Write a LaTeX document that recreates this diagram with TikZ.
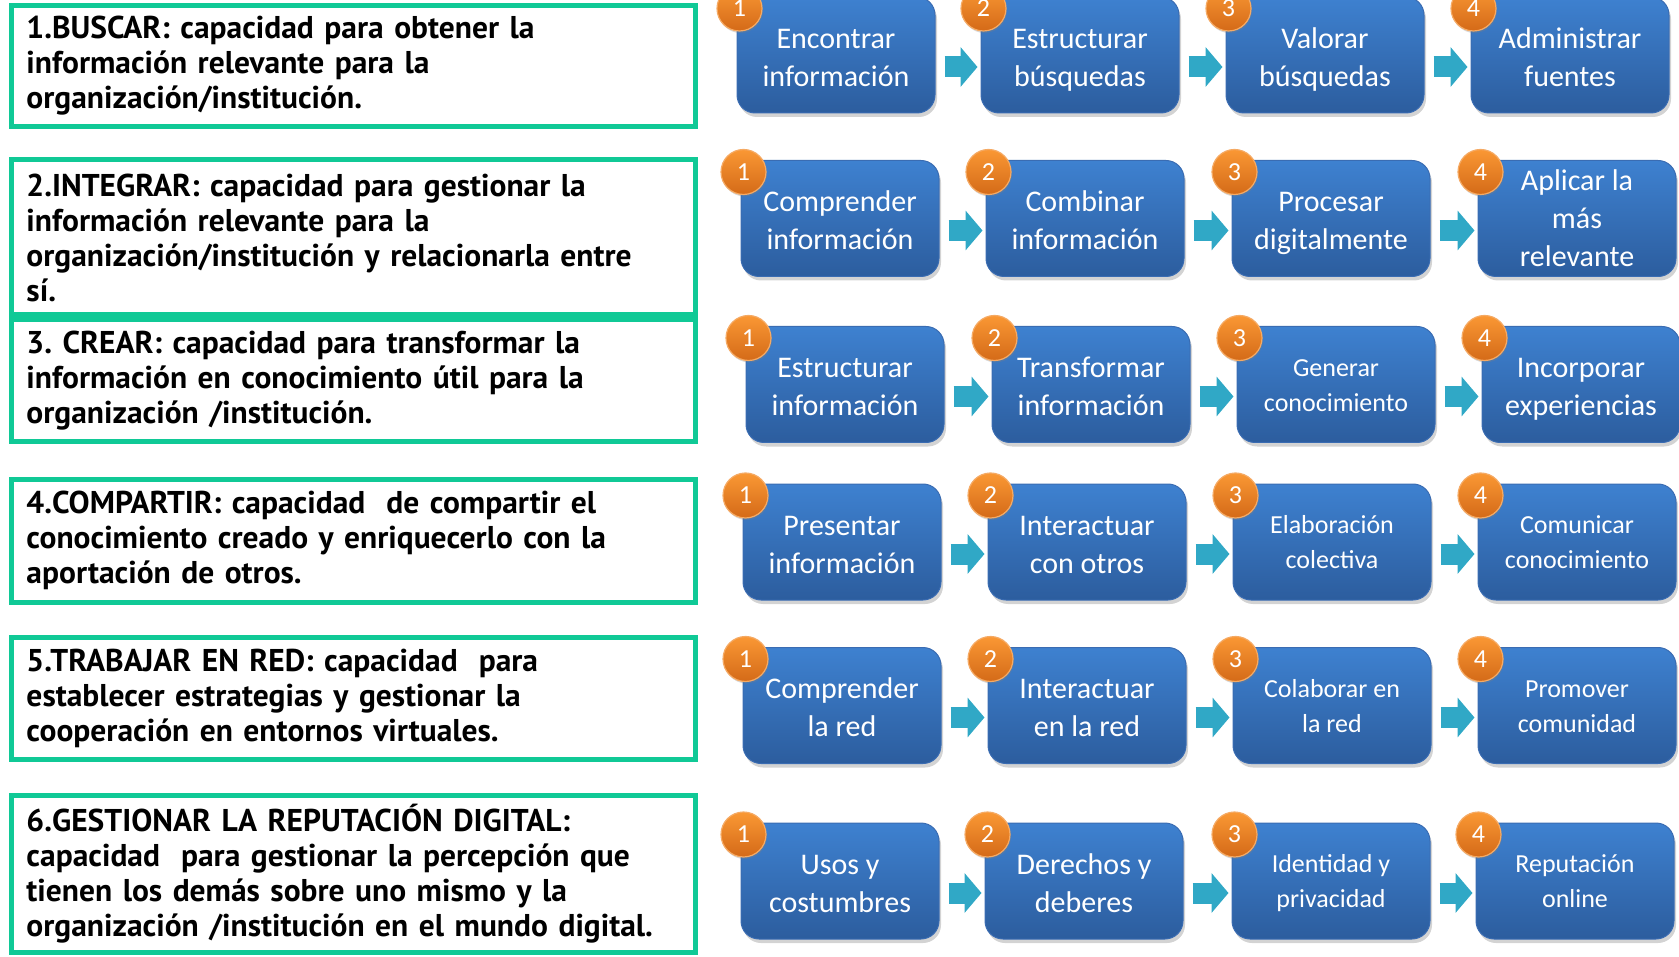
\documentclass[tikz,border=0pt]{standalone}
\usepackage{fontspec}
\setmainfont{Carlito}
\newfontfamily\deffont{PT Sans}
\usepackage{xcolor}
\usepackage{tikz}
\usetikzlibrary{arrows.meta, shadows}

\definecolor{defgreen}{RGB}{16,201,150}
\definecolor{boxtop}{RGB}{62,129,208}
\definecolor{boxbot}{RGB}{44,93,158}
\definecolor{boxline}{RGB}{58,108,178}
\definecolor{numtop}{RGB}{250,152,52}
\definecolor{numbot}{RGB}{212,106,24}
\definecolor{numline}{RGB}{245,170,100}
\definecolor{flowcol}{RGB}{48,168,198}

\begin{document}
\frenchspacing
\begin{tikzpicture}[x=1pt, y=-1pt,
				defbox/.style={draw=defgreen, line width=5pt, minimum height=#1,
					text width=654pt, inner xsep=15pt, align=left,
					font=\deffont\bfseries\fontsize{31.5}{35}\selectfont},
				skill/.style={rectangle, rounded corners=18pt, minimum width=198pt,
					minimum height=116pt, top color=boxtop, bottom color=boxbot,
					draw=boxline, line width=1pt, text=white, align=center,
					font=\fontsize{30}{38}\selectfont,
					execute at begin node={\rule{0pt}{2.45em}}, execute at end node=\strut,
					drop shadow={shadow xshift=2pt, shadow yshift=-4pt, opacity=0.35}},
				small/.style={font=\fontsize{26}{35}\selectfont},
				numbadge/.style={circle, minimum size=45pt, inner sep=0pt,
					top color=numtop, bottom color=numbot, draw=numline, line width=1.2pt,
					text=white, font=\fontsize{26}{26}\selectfont,
					drop shadow={shadow xshift=1pt, shadow yshift=-2pt, opacity=0.3}},
				flow/.style={draw=flowcol, line width=21pt,
					-{Triangle[width=39pt, length=17pt]},
					shorten <=9pt, shorten >=3pt}]
				\useasboundingbox (0,0) rectangle (1679,957);

				\node at (353.5,66) (d1) [defbox=121.5] {1.BUSCAR: capacidad para obtener la\\información relevante para la\\organización/institución.};
				\node at (353.5,237.5) (d2) [defbox=155] {2.INTEGRAR: capacidad para gestionar la\\información relevante para la\\organización/institución y relacionarla entre\\sí.};
				\node at (353.5,380.75) (d3) [defbox=121.5] {3. CREAR: capacidad para transformar la\\información en conocimiento útil para la\\organización /institución.};
				\node at (353.5,540.5) (d4) [defbox=123] {4.COMPARTIR: capacidad\ \ de compartir el\\conocimiento creado y enriquecerlo con la\\aportación de otros.};
				\node at (353.5,698.5) (d5) [defbox=122] {5.TRABAJAR EN RED: capacidad\ \ para\\establecer estrategias y gestionar la\\cooperación en entornos virtuales.};
				\node at (353.5,874) (d6) [defbox=157.5] {6.GESTIONAR LA REPUTACIÓN DIGITAL:\\capacidad\ \ para gestionar la percepción que\\tienen los demás sobre uno mismo y la\\organización /institución en el mundo digital.};

				\node at (836,55) (b11) [skill] {Encontrar\\información};
				\node at (1080,55) (b12) [skill] {Estructurar\\búsquedas};
				\node at (1325,55) (b13) [skill] {Valorar\\búsquedas};
				\node at (1570,55) (b14) [skill] {Administrar\\fuentes};

				\node at (840,218.5) (b21) [skill] {Comprender\\información};
				\node at (1085,218.5) (b22) [skill] {Combinar\\información};
				\node at (1331,218.5) (b23) [skill] {Procesar\\digitalmente};
				\node at (1577,218.5) (b24) [skill, execute at begin node={\rule{0pt}{96pt}}, text depth=0pt] {Aplicar la\\más\\relevante};

				\node at (845,384.5) (b31) [skill] {Estructurar\\información};
				\node at (1091,384.5) (b32) [skill] {Transformar\\información};
				\node at (1336,384.5) (b33) [skill, small] {Generar\\conocimiento};
				\node at (1581,384.5) (b34) [skill] {Incorporar\\experiencias};

				\node at (842,542) (b41) [skill] {Presentar\\información};
				\node at (1087,542) (b42) [skill] {Interactuar\\con otros};
				\node at (1332,542) (b43) [skill, small] {Elaboración\\colectiva};
				\node at (1577,542) (b44) [skill, small] {Comunicar\\conocimiento};

				\node at (842,705.5) (b51) [skill] {Comprender\\la red};
				\node at (1087,705.5) (b52) [skill] {Interactuar\\en la red};
				\node at (1332,705.5) (b53) [skill, small] {Colaborar en\\la red};
				\node at (1577,705.5) (b54) [skill, small] {Promover\\comunidad};

				\node at (840,881) (b61) [skill] {Usos y\\costumbres};
				\node at (1084,881) (b62) [skill] {Derechos y\\deberes};
				\node at (1331,881) (b63) [skill, small] {Identidad y\\privacidad};
				\node at (1575,881) (b64) [skill, small] {Reputación\\online};

				\node at ([xshift=3pt, yshift=-12pt]b11.north west) (n11) [numbadge] {1};
				\node at ([xshift=3pt, yshift=-12pt]b12.north west) (n12) [numbadge] {2};
				\node at ([xshift=3pt, yshift=-12pt]b13.north west) (n13) [numbadge] {3};
				\node at ([xshift=3pt, yshift=-12pt]b14.north west) (n14) [numbadge] {4};
				\node at ([xshift=3pt, yshift=-12pt]b21.north west) (n21) [numbadge] {1};
				\node at ([xshift=3pt, yshift=-12pt]b22.north west) (n22) [numbadge] {2};
				\node at ([xshift=3pt, yshift=-12pt]b23.north west) (n23) [numbadge] {3};
				\node at ([xshift=3pt, yshift=-12pt]b24.north west) (n24) [numbadge] {4};
				\node at ([xshift=3pt, yshift=-12pt]b31.north west) (n31) [numbadge] {1};
				\node at ([xshift=3pt, yshift=-12pt]b32.north west) (n32) [numbadge] {2};
				\node at ([xshift=3pt, yshift=-12pt]b33.north west) (n33) [numbadge] {3};
				\node at ([xshift=3pt, yshift=-12pt]b34.north west) (n34) [numbadge] {4};
				\node at ([xshift=3pt, yshift=-12pt]b41.north west) (n41) [numbadge] {1};
				\node at ([xshift=3pt, yshift=-12pt]b42.north west) (n42) [numbadge] {2};
				\node at ([xshift=3pt, yshift=-12pt]b43.north west) (n43) [numbadge] {3};
				\node at ([xshift=3pt, yshift=-12pt]b44.north west) (n44) [numbadge] {4};
				\node at ([xshift=3pt, yshift=-12pt]b51.north west) (n51) [numbadge] {1};
				\node at ([xshift=3pt, yshift=-12pt]b52.north west) (n52) [numbadge] {2};
				\node at ([xshift=3pt, yshift=-12pt]b53.north west) (n53) [numbadge] {3};
				\node at ([xshift=3pt, yshift=-12pt]b54.north west) (n54) [numbadge] {4};
				\node at ([xshift=3pt, yshift=-12pt]b61.north west) (n61) [numbadge] {1};
				\node at ([xshift=3pt, yshift=-12pt]b62.north west) (n62) [numbadge] {2};
				\node at ([xshift=3pt, yshift=-12pt]b63.north west) (n63) [numbadge] {3};
				\node at ([xshift=3pt, yshift=-12pt]b64.north west) (n64) [numbadge] {4};

				\draw[flow] ([yshift=-12pt]b11.east) -- ([yshift=-12pt]b12.west);
				\draw[flow] ([yshift=-12pt]b12.east) -- ([yshift=-12pt]b13.west);
				\draw[flow] ([yshift=-12pt]b13.east) -- ([yshift=-12pt]b14.west);
				\draw[flow] ([yshift=-12pt]b21.east) -- ([yshift=-12pt]b22.west);
				\draw[flow] ([yshift=-12pt]b22.east) -- ([yshift=-12pt]b23.west);
				\draw[flow] ([yshift=-12pt]b23.east) -- ([yshift=-12pt]b24.west);
				\draw[flow] ([yshift=-12pt]b31.east) -- ([yshift=-12pt]b32.west);
				\draw[flow] ([yshift=-12pt]b32.east) -- ([yshift=-12pt]b33.west);
				\draw[flow] ([yshift=-12pt]b33.east) -- ([yshift=-12pt]b34.west);
				\draw[flow] ([yshift=-12pt]b41.east) -- ([yshift=-12pt]b42.west);
				\draw[flow] ([yshift=-12pt]b42.east) -- ([yshift=-12pt]b43.west);
				\draw[flow] ([yshift=-12pt]b43.east) -- ([yshift=-12pt]b44.west);
				\draw[flow] ([yshift=-12pt]b51.east) -- ([yshift=-12pt]b52.west);
				\draw[flow] ([yshift=-12pt]b52.east) -- ([yshift=-12pt]b53.west);
				\draw[flow] ([yshift=-12pt]b53.east) -- ([yshift=-12pt]b54.west);
				\draw[flow] ([yshift=-12pt]b61.east) -- ([yshift=-12pt]b62.west);
				\draw[flow] ([yshift=-12pt]b62.east) -- ([yshift=-12pt]b63.west);
				\draw[flow] ([yshift=-12pt]b63.east) -- ([yshift=-12pt]b64.west);
			\end{tikzpicture}
\end{document}
